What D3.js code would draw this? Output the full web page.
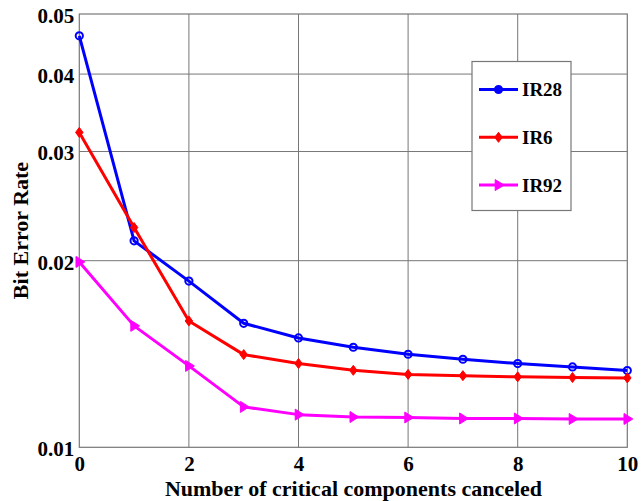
<!DOCTYPE html>
<html><head><meta charset="utf-8">
<script src="https://cdn.jsdelivr.net/npm/d3@7"></script>
<style>
body{margin:0;background:#fff;}
text{font-family:"Liberation Serif","Times New Roman",serif;font-weight:bold;fill:#000;}
</style></head>
<body><svg id="c" width="642" height="501"></svg>
<script>
const xValues = [0,1,2,3,4,5,6,7,8,9,10];
const ir28 = [0.0461,0.02153,0.01854,0.01585,0.01501,0.01450,0.01413,0.01387,0.01365,0.01348,0.01330];
const ir6  = [0.03221,0.02262,0.01599,0.01411,0.01365,0.01331,0.01311,0.01305,0.01299,0.01296,0.01294];
const ir92 = [0.01991,0.01570,0.01353,0.01162,0.01129,0.01119,0.01117,0.01113,0.01113,0.01111,0.01111];
const xTicks = [0,2,4,6,8,10];
const yTicks = [0.01,0.02,0.03,0.04,0.05];
const seriesNames = ["IR28","IR6","IR92"];

const svg = d3.select("#c");
const L=79.3, R=627.3, T=14, B=447.3;
const x = d3.scaleLinear().domain([0,10]).range([L,R]);
const y = d3.scaleLog().domain([0.01,0.05]).range([B,T]);
const gridColor = "#777";

// grid
svg.append("g").selectAll("line").data(xTicks.slice(1,-1)).join("line")
  .attr("x1",d=>x(d)).attr("x2",d=>x(d)).attr("y1",T).attr("y2",B)
  .attr("stroke",gridColor).attr("stroke-width",1);
svg.append("g").selectAll("line").data(yTicks.slice(1,-1)).join("line")
  .attr("x1",L).attr("x2",R).attr("y1",d=>y(d)).attr("y2",d=>y(d))
  .attr("stroke",gridColor).attr("stroke-width",1);
svg.append("rect").attr("x",L).attr("y",T).attr("width",R-L).attr("height",B-T)
  .attr("fill","none").attr("stroke",gridColor).attr("stroke-width",1.2);

// axes
const xAxis = svg.append("g").attr("transform",`translate(0,${B})`)
  .call(d3.axisBottom(x).tickValues(xTicks).tickSize(0).tickPadding(9).tickFormat(d3.format("d")));
xAxis.select(".domain").remove();
xAxis.selectAll("text").attr("font-size",21).style("font-family","Liberation Serif").style("font-weight","bold");
const yAxis = svg.append("g").attr("transform",`translate(${L},0)`)
  .call(d3.axisLeft(y).tickValues(yTicks).tickSize(0).tickPadding(5).tickFormat(d=>d3.format(".2f")(d)));
yAxis.select(".domain").remove();
yAxis.selectAll("text").attr("font-size",21).attr("dy","0.4em").style("font-family","Liberation Serif").style("font-weight","bold");

svg.append("text").attr("x",353.5).attr("y",496).attr("text-anchor","middle")
  .attr("font-size",22).text("Number of critical components canceled");
svg.append("text").attr("transform","translate(28,230.5) rotate(-90)").attr("text-anchor","middle")
  .attr("font-size",22).text("Bit Error Rate");

const series = [
  {name:seriesNames[0], vals:ir28, color:"#0000ff", marker:"circle"},
  {name:seriesNames[1], vals:ir6, color:"#ff0000", marker:"diamond"},
  {name:seriesNames[2], vals:ir92, color:"#ff00ff", marker:"triangle"}
];
const line = d3.line().x(d=>x(d[0])).y(d=>y(d[1]));

function drawMarker(g, type, cx, cy, color, legend){
  if(type==="circle"){
    g.append("circle").attr("cx",cx).attr("cy",cy).attr("r",3.6)
      .attr("fill",legend?color:"none").attr("stroke",color).attr("stroke-width",2);
  } else if(type==="diamond"){
    const s=5;
    g.append("path").attr("d",`M${cx},${cy-s}L${cx+s*0.75},${cy}L${cx},${cy+s}L${cx-s*0.75},${cy}Z`)
      .attr("fill",color).attr("stroke",color).attr("stroke-width",1);
  } else {
    const s=5.5;
    g.append("path").attr("d",`M${cx+s},${cy}L${cx-s*0.6},${cy-s}L${cx-s*0.6},${cy+s}Z`)
      .attr("fill",color).attr("stroke",color).attr("stroke-width",1);
  }
}

series.forEach(s=>{
  const pts = xValues.map((xv,i)=>[xv,s.vals[i]]);
  svg.append("path").datum(pts).attr("d",line).attr("fill","none")
    .attr("stroke",s.color).attr("stroke-width",3).attr("stroke-linejoin","round");
  const g = svg.append("g");
  pts.forEach(p=>drawMarker(g,s.marker,x(p[0]),y(p[1]),s.color,false));
});

// legend
const lg = svg.append("g");
lg.append("rect").attr("x",472).attr("y",61.5).attr("width",99).attr("height",149)
  .attr("fill","#fff").attr("stroke",gridColor).attr("stroke-width",1.2);
series.forEach((s,i)=>{
  const ly = 89.5 + i*47.8;
  lg.append("line").attr("x1",479).attr("x2",518).attr("y1",ly).attr("y2",ly)
    .attr("stroke",s.color).attr("stroke-width",3);
  drawMarker(lg,s.marker,498.5,ly,s.color,true);
  lg.append("text").attr("x",522).attr("y",ly+6.5).attr("font-size",19).text(s.name);
});
</script></body></html>
